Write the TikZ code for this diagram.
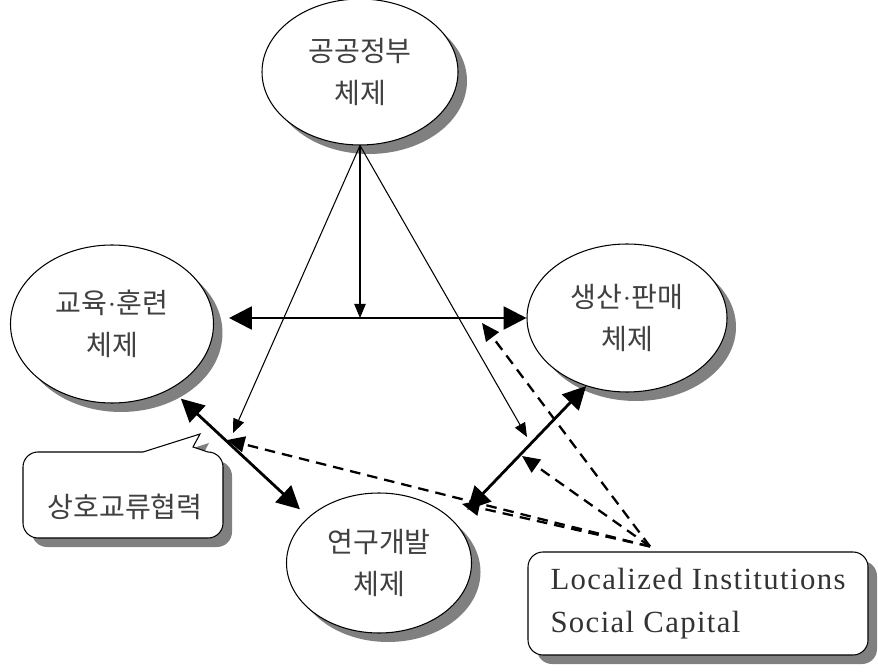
\documentclass[tikz,border=0pt]{standalone}
\usepackage{fontspec}
\setmainfont{Liberation Serif}
\newfontfamily\kor{Noto Sans CJK KR}
\newfontfamily\lat[LetterSpace=4.5]{Liberation Serif}
\newcommand{\mdot}{{\rmfamily\fontsize{15}{24}\selectfont·}}
\usetikzlibrary{arrows.meta,shadows,shapes.geometric}

\tikzset{
	shade/.style={drop shadow={shadow xshift=0.18cm, shadow yshift=-0.18cm, fill=black!50, opacity=1}},
	sys/.style={ellipse, draw, line width=0.6pt, fill=white, inner sep=0pt, align=center,
		font=\kor\fontsize{16}{24}\selectfont, text=black!75, shade},
	big/.style={line width=1.6pt, {Triangle[length=13pt,width=13pt]}-{Triangle[length=13pt,width=13pt]}},
	thin/.style={line width=0.6pt, -{Triangle[length=8pt,width=6.5pt]}},
	hint/.style={line width=1.3pt, dash pattern=on 6pt off 4pt, -{Triangle[length=10pt,width=9pt]}},
}

\begin{document}
\begin{tikzpicture}
		\useasboundingbox (0,0) rectangle (17.56,13.42);
		\node[sys, minimum width=3.92cm, minimum height=2.92cm] (gov) at (7.2, 11.98) {공공정부\\체제};
		\node[sys, minimum width=4.06cm, minimum height=3.16cm] (edu) at (2.24, 6.94) {교육\mdot 훈련\\체제};
		\node[sys, minimum width=4.0cm, minimum height=2.96cm] (prod) at (12.54, 7.06) {생산\mdot 판매\\체제};
		\node[sys, minimum width=3.7cm, minimum height=2.8cm] (rnd) at (7.58, 2.16) {연구개발\\체제};
		\draw[line width=0.6pt, fill=white, shade] (0.46,2.96) -- (0.46,4.08) arc[start angle=180, end angle=90, radius=0.3]
			-- (2.86,4.38) -- (4.0,4.74) -- (3.86,4.48) -- (4.16,4.38) arc[start angle=90, end angle=0, radius=0.3]
			-- (4.46,2.96) arc[start angle=0, end angle=-90, radius=0.3] -- (0.76,2.66) arc[start angle=270, end angle=180, radius=0.3] -- cycle;
		\node[font=\kor\fontsize{16}{24}\selectfont, text=black!75] (talk) at (2.5, 3.28) {상호교류협력};
		\node[draw, line width=0.6pt, rounded corners=0.3cm, fill=white, shade, minimum width=6.8cm, minimum height=2.06cm,
			align=left, font=\lat\fontsize{17.5}{24.4}\selectfont, text=black!80] (inst) at (13.96, 1.35) {Localized Institutions\\Social Capital};
		\coordinate (eduR) at ([xshift=0.3cm]edu.east);
		\coordinate (hmid) at (gov.south |- prod.west);
		\coordinate (src) at ([xshift=-0.96cm, yshift=0.1cm]inst.north);
		\coordinate (tL) at (4.66, 4.76);
		\coordinate (tR) at (10.54, 4.68);
		\coordinate (dA) at (4.54, 4.62);
		\coordinate (dB) at (9.24, 3.34);
		\coordinate (dC) at (10.44, 4.30);
		\coordinate (dD) at (9.64, 6.96);
		\draw[thin] (gov.south) -- (hmid);
		\draw[thin] (gov.south) -- (tL);
		\draw[thin] (gov.south) -- (tR);
		\draw[big] (eduR |- prod.west) -- (prod.west);
		\draw[big, shorten <=0.28cm, shorten >=0.23cm] (edu.-48) -- (rnd.147);
		\draw[big, shorten >=0.35cm] (prod.-121) -- (rnd.28);
		\foreach \t in {dA, dB, dC, dD}
			\draw[hint] (src) -- (\t);
	\end{tikzpicture}
\end{document}
